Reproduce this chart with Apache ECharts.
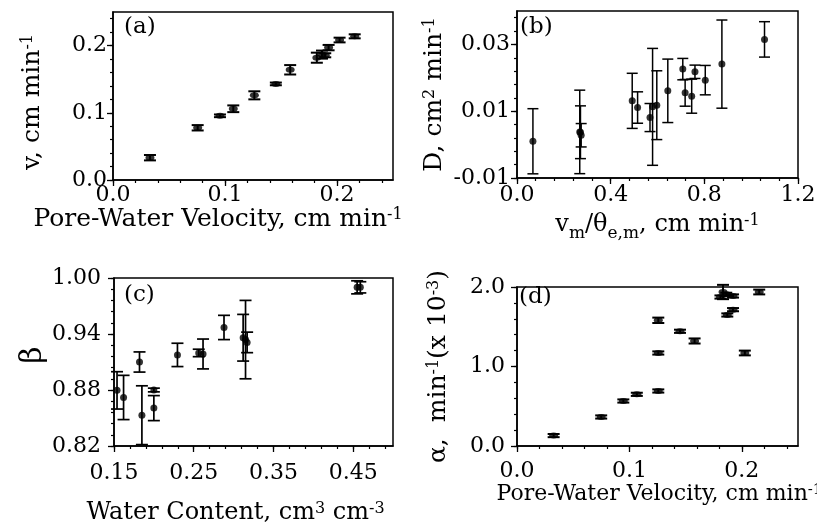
<!DOCTYPE html>
<html><head><meta charset="utf-8">
<script src="https://cdn.jsdelivr.net/npm/echarts@6/dist/echarts.min.js"></script>
<style>html,body{margin:0;padding:0;background:#fff}#c{width:817px;height:523px}</style>
</head><body><div id="c"></div>
<script>
// ---------- Panel (a): v vs pore-water velocity ----------
const aX   = [0.033, 0.0756, 0.0955, 0.1074, 0.1262, 0.1454, 0.1582, 0.182, 0.1866, 0.1895, 0.1925, 0.2023, 0.2158];
const aY   = [0.0332, 0.0777, 0.0955, 0.106, 0.126, 0.143, 0.164, 0.182, 0.1866, 0.1856, 0.197, 0.2083, 0.2138];
const aErr = [0.004, 0.004, 0.002, 0.005, 0.006, 0.002, 0.007, 0.0075, 0.006, 0.003, 0.004, 0.0035, 0.003];
const aXTicks = [0, 0.1, 0.2];
const aXMinor = [0, 0.02, 0.04, 0.06, 0.08, 0.1, 0.12, 0.14, 0.16, 0.18, 0.2, 0.22, 0.24];
const aYTicks = [0, 0.1, 0.2];
const aYMinor = [0, 0.02, 0.04, 0.06, 0.08, 0.1, 0.12, 0.14, 0.16, 0.18, 0.2, 0.22, 0.24];

// ---------- Panel (b): D vs vm/theta ----------
const bX   = [0.068, 0.268, 0.271, 0.274, 0.492, 0.515, 0.568, 0.579, 0.597, 0.644, 0.708, 0.718, 0.746, 0.760, 0.804, 0.875, 1.057];
const bY   = [0.001, 0.0038, 0.0037, 0.0028, 0.0131, 0.0111, 0.0081, 0.0113, 0.0118, 0.0161, 0.0226, 0.0155, 0.0145, 0.0218, 0.0193, 0.0241, 0.0315];
const bErr = [0.00975, 0.0125, 0.0079, 0.0035, 0.00825, 0.0047, 0.0042, 0.0175, 0.0103, 0.0095, 0.0032, 0.004, 0.0051, 0.002, 0.0044, 0.0132, 0.0053];
const bXTicks = [0, 0.4, 0.8, 1.2];
const bXMinor = [0, 0.08, 0.16, 0.24, 0.32, 0.4, 0.48, 0.56, 0.64, 0.72, 0.8, 0.88, 0.96, 1.04, 1.12, 1.2];
const bYTicks = [-0.01, 0.01, 0.03];
const bYMinor = [-0.01, -0.006, -0.002, 0.002, 0.006, 0.01, 0.014, 0.018, 0.022, 0.026, 0.03, 0.034, 0.038];

// ---------- Panel (c): beta vs water content ----------
const cX   = [0.1538, 0.162, 0.182, 0.185, 0.200, 0.200, 0.2296, 0.2563, 0.2617, 0.288, 0.312, 0.315, 0.317, 0.455, 0.459];
const cY   = [0.8796, 0.872, 0.910, 0.853, 0.880, 0.8606, 0.9176, 0.9197, 0.9186, 0.947, 0.936, 0.934, 0.931, 0.990, 0.990];
const cErr = [0.020, 0.0237, 0.0108, 0.0315, 0.002, 0.0134, 0.0125, 0.004, 0.016, 0.013, 0.025, 0.042, 0.011, 0.007, 0.006];
const cXTicks = [0.15, 0.25, 0.35, 0.45];
const cXMinor = [0.15, 0.17, 0.19, 0.21, 0.23, 0.25, 0.27, 0.29, 0.31, 0.33, 0.35, 0.37, 0.39, 0.41, 0.43, 0.45, 0.47, 0.49];
const cYTicks = [0.82, 0.88, 0.94, 1.00];
const cYMinor = [0.82, 0.832, 0.844, 0.856, 0.868, 0.88, 0.892, 0.904, 0.916, 0.928, 0.94, 0.952, 0.964, 0.976, 0.988, 1.0];

// ---------- Panel (d): alpha vs pore-water velocity ----------
const dX   = [0.0326, 0.0749, 0.0946, 0.1066, 0.1257, 0.1257, 0.1257, 0.145, 0.158, 0.181, 0.1833, 0.1862, 0.1922, 0.1871, 0.1922, 0.2027, 0.2155];
const dY   = [0.131, 0.365, 0.566, 0.650, 0.692, 1.170, 1.581, 1.443, 1.321, 1.874, 1.937, 1.908, 1.887, 1.648, 1.715, 1.170, 1.937];
const dErr = [0.02, 0.02, 0.02, 0.02, 0.02, 0.02, 0.034, 0.02, 0.032, 0.02, 0.09, 0.02, 0.02, 0.02, 0.02, 0.03, 0.03];
const dXTicks = [0, 0.1, 0.2];
const dXMinor = [0, 0.02, 0.04, 0.06, 0.08, 0.1, 0.12, 0.14, 0.16, 0.18, 0.2, 0.22, 0.24];
const dYTicks = [0, 1.0, 2.0];
const dYMinor = [0, 0.2, 0.4, 0.6, 0.8, 1.0, 1.2, 1.4, 1.6, 1.8, 2.0];

const FONT = 'DejaVu Serif';
const BLACK = '#000';

const rich = {
  tA:  {fontFamily: FONT, fontSize: 25, color: BLACK, lineHeight: 27, verticalAlign: 'top'},
  t:   {fontFamily: FONT, fontSize: 24, color: BLACK, lineHeight: 26, verticalAlign: 'top'},
  t2:  {fontFamily: FONT, fontSize: 22, color: BLACK, lineHeight: 24, verticalAlign: 'top'},
  ty:  {fontFamily: FONT, fontSize: 25, color: BLACK, lineHeight: 27, verticalAlign: 'top'},
  s:   {fontFamily: FONT, fontSize: 16, color: BLACK, lineHeight: 16, verticalAlign: 'top'},
  s2:  {fontFamily: FONT, fontSize: 15, color: BLACK, lineHeight: 15, verticalAlign: 'top'},
  b:   {fontFamily: FONT, fontSize: 17, color: BLACK, lineHeight: 17, verticalAlign: 'top', padding: [12, 0, 0, 0]},
  g:   {fontFamily: FONT, fontSize: 30, color: BLACK, lineHeight: 32, verticalAlign: 'top'}
};

function axisPair(dim, gi, min, max, major, minor, dec, cfg) {
  const common = {
    type: 'value', gridIndex: gi, min: min, max: max,
    position: dim === 'x' ? 'bottom' : 'left',
    splitLine: {show: false}
  };
  const main = Object.assign({}, common, {
    axisLine: {show: true, onZero: false, lineStyle: {color: BLACK, width: 1.5}},
    axisTick: {show: true, customValues: major, length: 6, lineStyle: {color: BLACK, width: 1.3}},
    axisLabel: {
      customValues: major, formatter: v => Number(v).toFixed(dec),
      fontFamily: FONT, fontSize: 22, color: BLACK, margin: cfg.margin
    },
    name: cfg.name, nameLocation: 'middle', nameGap: cfg.nameGap,
    nameTextStyle: {rich: rich, padding: cfg.namePad || 0}
  });
  const sub = Object.assign({}, common, {
    axisLine: {show: false, onZero: false},
    axisTick: {show: true, customValues: minor, length: 3, lineStyle: {color: BLACK, width: 1.2}},
    axisLabel: {show: false}
  });
  return [main, sub];
}

function errRender(capW, lw) {
  return function (params, api) {
    const x = api.value(0), y = api.value(1), e = api.value(2);
    const hi = api.coord([x, y + e]);
    const lo = api.coord([x, y - e]);
    const h = capW / 2;
    const st = {stroke: BLACK, lineWidth: lw, fill: null};
    return {type: 'group', children: [
      {type: 'line', shape: {x1: hi[0], y1: hi[1], x2: lo[0], y2: lo[1]}, style: st},
      {type: 'line', shape: {x1: hi[0] - h, y1: hi[1], x2: hi[0] + h, y2: hi[1]}, style: st},
      {type: 'line', shape: {x1: lo[0] - h, y1: lo[1], x2: lo[0] + h, y2: lo[1]}, style: st}
    ]};
  };
}

function zip3(xs, ys, es) { return xs.map((x, i) => [x, ys[i], es[i]]); }

const grids = [
  {left: 113, top: 12, width: 280, height: 168},
  {left: 517, top: 11, width: 281, height: 167},
  {left: 114, top: 278, width: 279, height: 168},
  {left: 517, top: 287, width: 281, height: 159}
].map(g => Object.assign(g, {show: true, borderColor: BLACK, borderWidth: 1.5, backgroundColor: 'transparent',
                             containLabel: false, outerBoundsMode: 'none'}));

const xAxes = [].concat(
  axisPair('x', 0, 0, 0.25, aXTicks, aXMinor, 1, {margin: 4, nameGap: 21, name: '{tA|Pore-Water Velocity, cm min}{s|-1}', namePad: [0, 70, 0, 0]}),
  axisPair('x', 1, 0, 1.2, bXTicks, bXMinor, 1, {margin: 6, nameGap: 35, name: '{t|v}{b|m}{t|/θ}{b|e,m}{t|, cm min}{s|-1}'}),
  axisPair('x', 2, 0.15, 0.5, cXTicks, cXMinor, 2, {margin: 16, nameGap: 55, name: '{t|Water Content, cm}{s|3}{t| cm}{s|-3}', namePad: [0, 36, 0, 0]}),
  axisPair('x', 3, 0, 0.25, dXTicks, dXMinor, 1, {margin: 14, nameGap: 34, name: '{t2|Pore-Water Velocity, cm min}{s2|-1}', namePad: [0, 0, 0, 4]})
);
const yAxes = [].concat(
  axisPair('y', 0, 0, 0.25, aYTicks, aYMinor, 1, {margin: 6, nameGap: 66, name: '{ty|v, cm min}{s|-1}', namePad: [0, 12, 0, 0]}),
  axisPair('y', 1, -0.01, 0.04, bYTicks, bYMinor, 2, {margin: 7, nameGap: 68, name: '{ty|D, cm}{s|2}{ty| min}{s|-1}'}),
  axisPair('y', 2, 0.82, 1.0, cYTicks, cYMinor, 2, {margin: 13, nameGap: 64, name: '{g|β}', namePad: [0, 0, 0, 14]}),
  axisPair('y', 3, 0, 2.0, dYTicks, dYMinor, 1, {margin: 12, nameGap: 64, name: '{ty|α,  min}{s|-1}{ty|(x 10}{s|-3}{ty|)}'})
);

const panels = [
  {xs: aX, ys: aY, es: aErr, sym: [9, 6], cap: 12, lw: 2},
  {xs: bX, ys: bY, es: bErr, sym: 7, cap: 11, lw: 1.5},
  {xs: cX, ys: cY, es: cErr, sym: 7, cap: 12, lw: 1.7},
  {xs: dX, ys: dY, es: dErr, sym: [9, 6], cap: 12, lw: 2}
];
const series = [];
panels.forEach((p, i) => {
  series.push({
    type: 'custom', xAxisIndex: i * 2, yAxisIndex: i * 2,
    renderItem: errRender(p.cap, p.lw), encode: {x: 0, y: 1},
    data: zip3(p.xs, p.ys, p.es), clip: false, silent: true, z: 3
  });
  series.push({
    type: 'scatter', xAxisIndex: i * 2, yAxisIndex: i * 2,
    symbol: 'circle', symbolSize: p.sym,
    itemStyle: {color: BLACK}, data: p.xs.map((x, k) => [x, p.ys[k]]),
    clip: false, silent: true, z: 4
  });
});

const labelStyle = {fontFamily: FONT, fontSize: 23, fontWeight: 'normal', color: BLACK};
const titles = [
  {text: '(a)', left: 124, top: 16},
  {text: '(b)', left: 520, top: 16},
  {text: '(c)', left: 124, top: 284},
  {text: '(d)', left: 519, top: 286}
].map(t => Object.assign(t, {textStyle: labelStyle, padding: 0}));

const chart = echarts.init(document.getElementById('c'), null, {renderer: 'canvas'});
chart.setOption({
  animation: false,
  backgroundColor: '#fff',
  title: titles,
  grid: grids,
  xAxis: xAxes,
  yAxis: yAxes,
  series: series
});
</script></body></html>
